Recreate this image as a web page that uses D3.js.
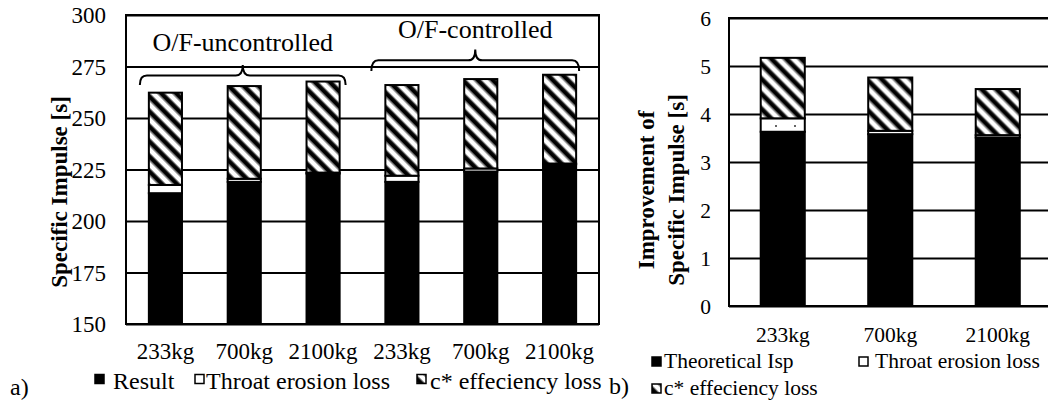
<!DOCTYPE html>
<html>
<head>
<meta charset="utf-8">
<script src="https://cdn.jsdelivr.net/npm/d3@7"></script>
<style>
  html, body { margin: 0; padding: 0; background: #fff; }
  svg { display: block; }
  text { font-family: "Liberation Serif", "Times New Roman", serif; fill: #000; }
</style>
</head>
<body>
<svg id="chart" width="1048" height="400"></svg>
<script>
// ---------- data ----------
const catsA = ["233kg", "700kg", "2100kg", "233kg", "700kg", "2100kg"];
const resultA = [213.5, 219, 223, 219, 224, 227.5];
const throatA = [4, 1.5, 0.5, 3, 1.5, 0.4];
const cstarA = [44.8, 45, 44.2, 44, 43.4, 43.1];
const ticksA = [150, 175, 200, 225, 250, 275, 300];
const groupsA = ["O/F-uncontrolled", "O/F-controlled"];
const legendA = ["Result", "Throat erosion loss", "c* effeciency loss"];

const catsB = ["233kg", "700kg", "2100kg"];
const theoB = [3.63, 3.58, 3.51];
const throatB = [0.28, 0.07, 0.05];
const cstarB = [1.26, 1.11, 0.96];
const ticksB = [0, 1, 2, 3, 4, 5, 6];
const legendB = ["Theoretical Isp", "Throat erosion loss", "c* effeciency loss"];

const svg = d3.select("#chart");
const defs = svg.append("defs");

// diagonal hatch "\\"
const period = 10.6;
const hp = defs.append("pattern").attr("id", "hatch")
  .attr("patternUnits", "userSpaceOnUse")
  .attr("width", period).attr("height", period)
  .attr("patternTransform", "rotate(45)");
hp.append("rect").attr("width", period).attr("height", period).attr("fill", "#fff");
hp.append("rect").attr("y", 2.0).attr("width", period).attr("height", 1).attr("fill", "#888");
hp.append("rect").attr("y", 3.0).attr("width", period).attr("height", 4.4).attr("fill", "#000");
hp.append("rect").attr("y", 7.4).attr("width", period).attr("height", 1).attr("fill", "#888");

// sparse dots pattern for throat erosion in chart b
const dp = defs.append("pattern").attr("id", "dots")
  .attr("patternUnits", "userSpaceOnUse")
  .attr("width", 19).attr("height", 19);
dp.append("rect").attr("width", 19).attr("height", 19).attr("fill", "#fff");
dp.append("rect").attr("x", 15).attr("y", 11).attr("width", 2).attr("height", 2).attr("fill", "#666");

// ---------- chart a ----------
const xA = d3.scaleBand().domain(catsA.map((d, i) => i)).range([126, 599])
  .paddingInner(0.58).paddingOuter(0.29);
const yA = d3.scaleLinear().domain([150, 300]).range([324, 15]);

const gA = svg.append("g");
gA.append("g").call(d3.axisLeft(yA).tickValues(ticksA).tickSize(-(599 - 126)).tickFormat(""))
  .attr("transform", "translate(126,0)")
  .call(g => g.select(".domain").remove())
  .call(g => g.selectAll("line").attr("stroke", "#000").attr("stroke-width", 1.8));
gA.append("g").attr("transform", "translate(106,0)")
  .call(d3.axisLeft(yA).tickValues(ticksA).tickSize(0).tickPadding(0).tickFormat(d3.format("d")))
  .call(g => g.select(".domain").remove())
  .call(g => g.selectAll("text").attr("font-size", 23).attr("dy", "0.34em")
    .style("font-family", "Liberation Serif"));
gA.append("rect").attr("x", 126).attr("y", 15).attr("width", 599 - 126).attr("height", 324 - 15)
  .attr("fill", "none").attr("stroke", "#000").attr("stroke-width", 2);

const barsA = catsA.map((c, i) => ({ i, r: resultA[i], t: throatA[i], c: cstarA[i] }));
const bA = gA.append("g").selectAll("g").data(barsA).join("g");
bA.append("rect").attr("x", d => xA(d.i)).attr("width", xA.bandwidth())
  .attr("y", d => yA(d.r)).attr("height", d => yA(150) - yA(d.r))
  .attr("fill", "#000").attr("stroke", "#000").attr("stroke-width", 2);
bA.append("rect").attr("x", d => xA(d.i)).attr("width", xA.bandwidth())
  .attr("y", d => yA(d.r + d.t)).attr("height", d => yA(d.r) - yA(d.r + d.t))
  .attr("fill", "#fff").attr("stroke", "#000").attr("stroke-width", 2);
bA.append("rect").attr("x", d => xA(d.i)).attr("width", xA.bandwidth())
  .attr("y", d => yA(d.r + d.t + d.c)).attr("height", d => yA(d.r + d.t) - yA(d.r + d.t + d.c))
  .attr("fill", "url(#hatch)").attr("stroke", "#000").attr("stroke-width", 2);

gA.append("g").selectAll("text").data(catsA).join("text")
  .attr("x", (d, i) => xA(i) + xA.bandwidth() / 2).attr("y", 359)
  .attr("text-anchor", "middle").attr("font-size", 23).text(d => d);

function brace(x0, x1, yEnd, yMid, yPeak) {
  const xm = (x0 + x1) / 2;
  const r = 7;
  return `M${x0},${yEnd} Q${x0},${yMid} ${x0 + r},${yMid} L${xm - r},${yMid} Q${xm},${yMid} ${xm},${yPeak}` +
         ` Q${xm},${yMid} ${xm + r},${yMid} L${x1 - r},${yMid} Q${x1},${yMid} ${x1},${yEnd}`;
}
const braceDefs = [
  { x0: xA(0) - 9, x1: xA(2) + xA.bandwidth() + 6, yEnd: yA(266), yMid: yA(270.6), yPeak: yA(275.7), ty: 51 },
  { x0: xA(3) - 14, x1: xA(5) + xA.bandwidth() + 3, yEnd: yA(272.8), yMid: yA(278), yPeak: yA(283.3), ty: 38 }
];
braceDefs.forEach((b, k) => {
  gA.append("path").attr("d", brace(b.x0, b.x1, b.yEnd, b.yMid, b.yPeak))
    .attr("fill", "none").attr("stroke", "#000").attr("stroke-width", 2);
  gA.append("text").attr("x", (b.x0 + b.x1) / 2).attr("y", b.ty)
    .attr("text-anchor", "middle").attr("font-size", 26).text(groupsA[k]);
});

gA.append("text").attr("transform", "translate(67,192) rotate(-90)")
  .attr("text-anchor", "middle").attr("font-size", 23).attr("font-weight", "bold")
  .text("Specific Impulse [s]");

const legA = [
  { x: 95, fill: "#000", tx: 113 },
  { x: 195, fill: "#fff", tx: 206 },
  { x: 417, fill: "url(#hatch)", tx: 430 }
];
legA.forEach((l, k) => {
  gA.append("rect").attr("x", l.x).attr("y", 374.5).attr("width", 9).attr("height", 9)
    .attr("fill", l.fill).attr("stroke", "#000").attr("stroke-width", 1.5);
  gA.append("text").attr("x", l.tx).attr("y", 389).attr("font-size", 24).text(legendA[k]);
});
svg.append("text").attr("x", 10).attr("y", 395).attr("font-size", 24).text("a)");

// ---------- chart b ----------
const xB = d3.scaleBand().domain(catsB.map((d, i) => i)).range([729, 1051.5])
  .paddingInner(0.59).paddingOuter(0.295);
const yB = d3.scaleLinear().domain([0, 6]).range([306, 18]);
const gB = svg.append("g");
gB.append("g").attr("transform", "translate(729,0)")
  .call(d3.axisLeft(yB).tickValues(ticksB).tickSize(-(1051.5 - 729)).tickFormat(""))
  .call(g => g.select(".domain").remove())
  .call(g => g.selectAll("line").attr("stroke", "#000").attr("stroke-width", 1.8));
gB.append("g").attr("transform", "translate(711,0)")
  .call(d3.axisLeft(yB).tickValues(ticksB).tickSize(0).tickPadding(0).tickFormat(d3.format("d")))
  .call(g => g.select(".domain").remove())
  .call(g => g.selectAll("text").attr("font-size", 21.5).attr("dy", "0.34em")
    .style("font-family", "Liberation Serif"));
gB.append("rect").attr("x", 729).attr("y", 18).attr("width", 1051.5 - 729).attr("height", 306 - 18)
  .attr("fill", "none").attr("stroke", "#000").attr("stroke-width", 2);

const barsB = catsB.map((c, i) => ({ i, r: theoB[i], t: throatB[i], c: cstarB[i] }));
const bB = gB.append("g").selectAll("g").data(barsB).join("g");
bB.append("rect").attr("x", d => xB(d.i)).attr("width", xB.bandwidth())
  .attr("y", d => yB(d.r)).attr("height", d => yB(0) - yB(d.r))
  .attr("fill", "#000").attr("stroke", "#000").attr("stroke-width", 2);
bB.append("rect").attr("x", d => xB(d.i)).attr("width", xB.bandwidth())
  .attr("y", d => yB(d.r + d.t)).attr("height", d => yB(d.r) - yB(d.r + d.t))
  .attr("fill", "url(#dots)").attr("stroke", "#000").attr("stroke-width", 2);
bB.append("rect").attr("x", d => xB(d.i)).attr("width", xB.bandwidth())
  .attr("y", d => yB(d.r + d.t + d.c)).attr("height", d => yB(d.r + d.t) - yB(d.r + d.t + d.c))
  .attr("fill", "url(#hatch)").attr("stroke", "#000").attr("stroke-width", 2);

gB.append("g").selectAll("text").data(catsB).join("text")
  .attr("x", (d, i) => xB(i) + xB.bandwidth() / 2).attr("y", 342)
  .attr("text-anchor", "middle").attr("font-size", 21.5).text(d => d);

const tB = gB.append("text").attr("transform", "translate(654,190) rotate(-90)")
  .attr("text-anchor", "middle").attr("font-size", 23).attr("font-weight", "bold");
tB.append("tspan").attr("x", 0).attr("dy", 0).text("Improvement of");
tB.append("tspan").attr("x", 0).attr("dy", 30).text("Specific Impulse [s]");

const legB = [
  { x: 652, y: 357, fill: "#000", tx: 664, ty: 368 },
  { x: 859, y: 357, fill: "#fff", tx: 875, ty: 368 },
  { x: 652, y: 384, fill: "url(#hatch)", tx: 664, ty: 395 }
];
legB.forEach((l, k) => {
  gB.append("rect").attr("x", l.x).attr("y", l.y).attr("width", 9).attr("height", 9)
    .attr("fill", l.fill).attr("stroke", "#000").attr("stroke-width", 1.5);
  gB.append("text").attr("x", l.tx).attr("y", l.ty).attr("font-size", 21.5).text(legendB[k]);
});
svg.append("text").attr("x", 609).attr("y", 394).attr("font-size", 24).text("b)");
</script>
</body>
</html>
